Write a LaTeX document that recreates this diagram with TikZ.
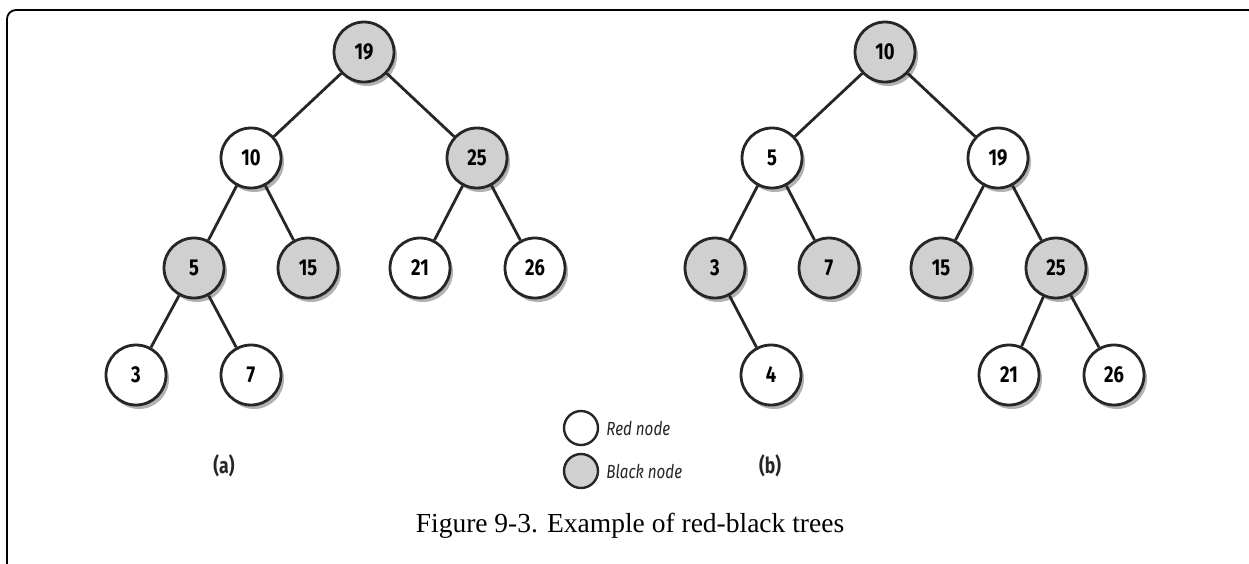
\documentclass[tikz,border=0pt]{standalone}
\usepackage{fontspec}
\setmainfont{Liberation Serif}
\newfontfamily\nodefont{Fira Sans}[FakeStretch=0.8]
\usetikzlibrary{positioning,shadows}
\definecolor{nodegray}{HTML}{D0D0D0}
\definecolor{inkgray}{HTML}{262626}
\tikzset{
  framebox/.style={black, line width=1.8pt, rounded corners=9pt},
  rbnode/.style={circle, draw=inkgray, line width=2.8pt, minimum size=60pt, inner sep=0pt, fill=white, font=\nodefont\fontsize{23}{26}\selectfont\bfseries, drop shadow={shadow xshift=3pt, shadow yshift=-4pt, opacity=0.3, fill=black}},
  rednode/.style={rbnode},
  blacknode/.style={rbnode, fill=nodegray},
  treeedge/.style={inkgray, line width=2.8pt},
  keynode/.style={circle, draw=inkgray, line width=2.4pt, minimum size=34pt, inner sep=0pt},
  keytext/.style={font=\nodefont\fontsize{19}{22}\selectfont\itshape, text=inkgray, anchor=west, inner sep=0pt},
  treelabel/.style={font=\nodefont\fontsize{22}{26}\selectfont\bfseries, text=inkgray}
}
\begin{document}
\begin{tikzpicture}[x=1pt, y=-1pt, node distance=106pt and 113pt, on grid]
  \path[use as bounding box, clip] (0,0) rectangle (1249,563);
  \draw[framebox] (7,600) -- (7,10) -- (1257,10) -- (1257,600);
  % tree (a)
  \node[blacknode] (a19) at (364,52) {19};
  \node[rednode, below left=of a19] (a10) {10};
  \node[blacknode, below right=of a19] (a25) {25};
  \node[blacknode, below left=110pt and 57pt of a10] (a5) {5};
  \node[blacknode, below right=110pt and 57pt of a10] (a15) {15};
  \node[rednode, below left=110pt and 57pt of a25] (a21) {21};
  \node[rednode, below right=110pt and 58pt of a25] (a26) {26};
  \node[rednode, below left=107pt and 58pt of a5] (a3) {3};
  \node[rednode, below right=107pt and 57pt of a5] (a7) {7};
  \draw[treeedge] (a19) -- (a10);
  \draw[treeedge] (a19) -- (a25);
  \draw[treeedge] (a10) -- (a5);
  \draw[treeedge] (a10) -- (a15);
  \draw[treeedge] (a25) -- (a21);
  \draw[treeedge] (a25) -- (a26);
  \draw[treeedge] (a5) -- (a3);
  \draw[treeedge] (a5) -- (a7);
  % tree (b)
  \node[blacknode] (b10) at (885,52) {10};
  \node[rednode, below left=of b10] (b5) {5};
  \node[rednode, below right=of b10] (b19) {19};
  \node[blacknode, below left=110pt and 57pt of b5] (b3) {3};
  \node[blacknode, below right=110pt and 57pt of b5] (b7) {7};
  \node[blacknode, below left=110pt and 57pt of b19] (b15) {15};
  \node[blacknode, below right=110pt and 58pt of b19] (b25) {25};
  \node[rednode, below right=107pt and 56pt of b3] (b4) {4};
  \node[rednode, below left=107pt and 47pt of b25] (b21) {21};
  \node[rednode, below right=107pt and 58pt of b25] (b26) {26};
  \draw[treeedge] (b10) -- (b5);
  \draw[treeedge] (b10) -- (b19);
  \draw[treeedge] (b5) -- (b3);
  \draw[treeedge] (b5) -- (b7);
  \draw[treeedge] (b19) -- (b15);
  \draw[treeedge] (b19) -- (b25);
  \draw[treeedge] (b3) -- (b4);
  \draw[treeedge] (b25) -- (b21);
  \draw[treeedge] (b25) -- (b26);
  % legend and labels
  \node[keynode, fill=white] (keyred) at (581,428) {};
  \node[keynode, fill=nodegray] (keyblack) at (581,471) {};
  \node[keytext, xshift=7pt] (redtext) at (keyred.east) {Red node};
  \node[keytext, xshift=7pt] (blacktext) at (keyblack.east) {Black node};
  \node[treelabel] (labela) at (224,466) {(a)};
  \node[treelabel] (labelb) at (770,466) {(b)};
  \node (caption) at (630,526) {\fontsize{27.5}{32}\selectfont Figure 9-3. Example of red-black trees};
\end{tikzpicture}
\end{document}
